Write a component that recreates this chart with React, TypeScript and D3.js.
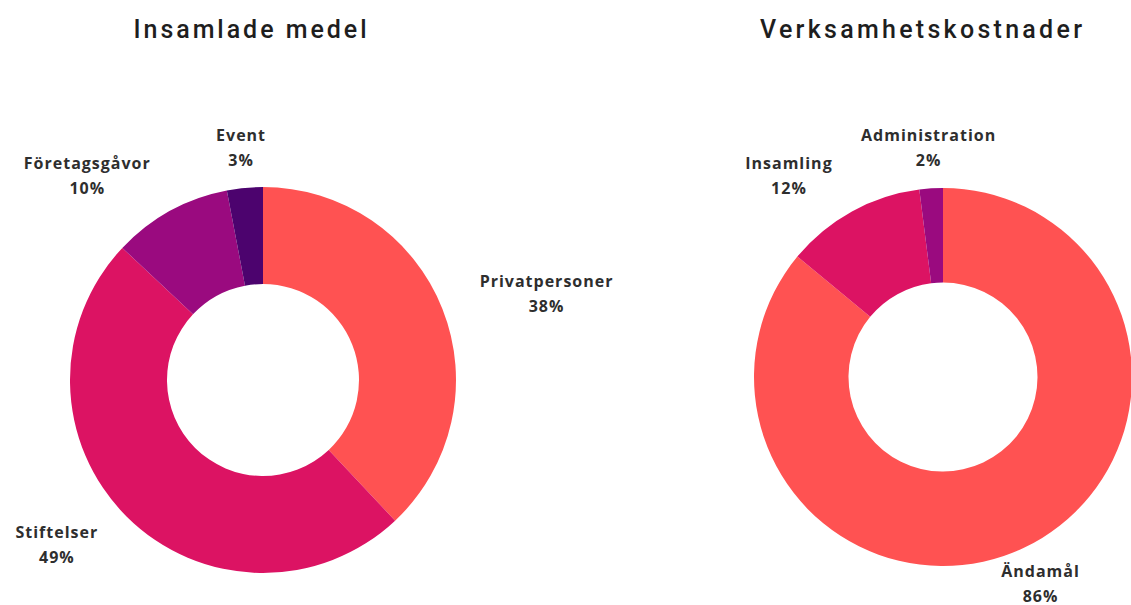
import React, { useEffect, useRef } from "react";
import * as d3 from "d3";

const leftTitle = "Insamlade medel";
const leftCategories = ["Privatpersoner", "Stiftelser", "Företagsgåvor", "Event"];
const leftValues = [38, 49, 10, 3];
const leftColors = ["#FF5252", "#DC1363", "#9A0A7F", "#4C036E"];

const rightTitle = "Verksamhetskostnader";
const rightCategories = ["Ändamål", "Insamling", "Administration"];
const rightValues = [86, 12, 2];
const rightColors = ["#FF5252", "#DC1363", "#9A0A7F"];

const W = 1131;
const H = 605;

type Chart = {
  title: string;
  cats: string[];
  vals: number[];
  colors: string[];
  cx: number;
  cy: number;
  r: number;
  ir: number;
  titleX: number;
  titleW: number;
};

const charts: Chart[] = [
  { title: leftTitle, cats: leftCategories, vals: leftValues, colors: leftColors, cx: 263, cy: 380, r: 193, ir: 96, titleX: 250, titleW: 233 },
  { title: rightTitle, cats: rightCategories, vals: rightValues, colors: rightColors, cx: 943, cy: 377, r: 189, ir: 94.5, titleX: 921, titleW: 322 },
];

export default function App() {
  const ref = useRef<SVGSVGElement>(null);
  useEffect(() => {
    const svg = d3.select(ref.current);
    svg.selectAll("*").remove();
    svg.append("rect").attr("width", W).attr("height", H).attr("fill", "#ffffff");
    charts.forEach((c) => {
      svg
        .append("text")
        .attr("x", c.titleX)
        .attr("y", 38)
        .attr("text-anchor", "middle")
        .attr("font-family", "Roboto, 'Open Sans', sans-serif")
        .attr("font-weight", 500)
        .attr("font-size", 25)
        .attr("fill", "#1e1e1e")
        .attr("textLength", c.titleW)
        .attr("lengthAdjust", "spacing")
        .text(c.title);

      const pie = d3.pie<number>().sort(null).value((d) => d);
      const arcs = pie(c.vals);
      const arc = d3.arc<d3.PieArcDatum<number>>().innerRadius(c.ir).outerRadius(c.r);
      const g = svg.append("g").attr("transform", `translate(${c.cx},${c.cy})`);
      g.selectAll("path")
        .data(arcs)
        .join("path")
        .attr("d", arc)
        .attr("fill", (_, i) => c.colors[i]);

      const R = c.r + 40;
      arcs.forEach((a, i) => {
        const mid = (a.startAngle + a.endAngle) / 2;
        const s = Math.sin(mid);
        const x = c.cx + s * R;
        const y = c.cy - Math.cos(mid) * R;
        const lg = svg.append("g");
        const lines = [c.cats[i], `${c.vals[i]}%`];
        const texts = lines.map((t, k) =>
          lg
            .append("text")
            .attr("x", 0)
            .attr("y", (k === 0 ? -12.5 : 12.5) + 5.5)
            .attr("text-anchor", "middle")
            .attr("font-family", "'Open Sans', Roboto, sans-serif")
            .attr("font-weight", 700)
            .attr("font-size", 16)
            .attr("letter-spacing", 1.0)
            .attr("fill", "#2e2e2e")
            .text(t)
        );
        const w = Math.max(...texts.map((t) => (t.node() as SVGTextElement).getComputedTextLength()));
        let dx = 0;
        if (Math.abs(s) >= 0.45) dx = s > 0 ? w / 2 : -w / 2;
        lg.attr("transform", `translate(${x + dx},${y})`);
      });
    });
  }, []);
  return (
    <svg
      ref={ref}
      width={W}
      height={H}
      style={{ position: "absolute", left: 0, top: 0, display: "block" }}
    />
  );
}
